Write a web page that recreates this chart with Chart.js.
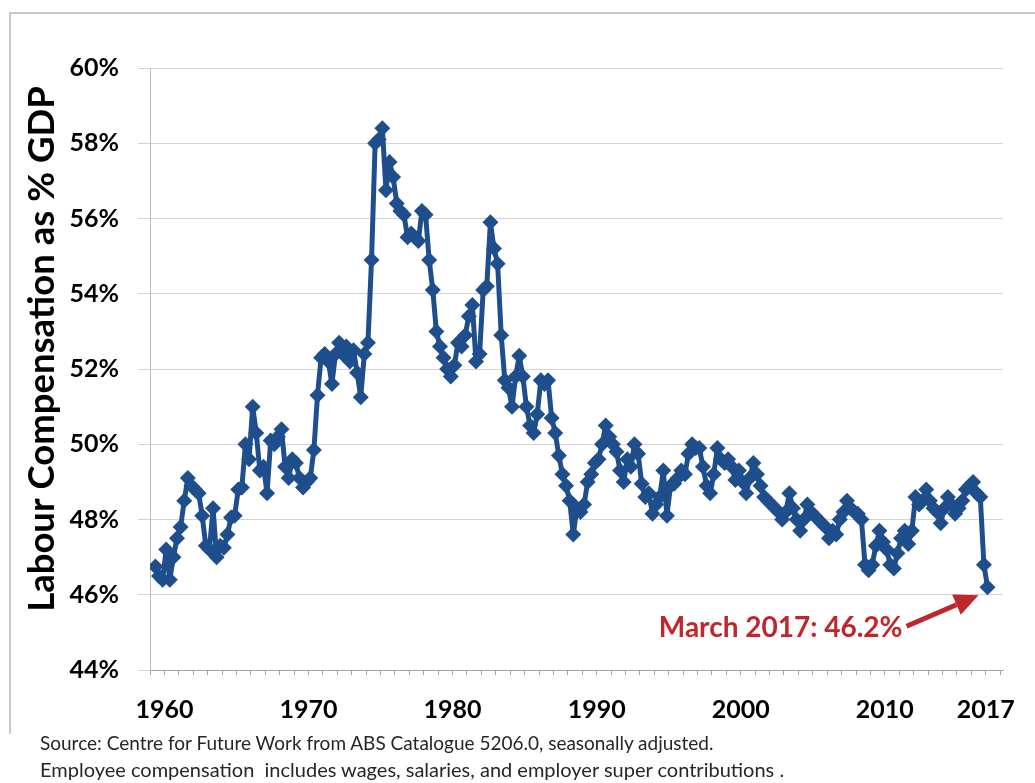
<!DOCTYPE html>
<html>
<head>
<meta charset="utf-8">
<script src="https://cdn.jsdelivr.net/npm/chart.js@4"></script>
<style>
  html, body { margin: 0; padding: 0; background: #fff; }
  #wrap { position: relative; width: 1035px; height: 783px; overflow: hidden; }
  #frame { position: absolute; left: 9px; top: 12px; width: 1040px; height: 720px;
           border-top: 2px solid #c8c8c8; border-left: 2px solid #c8c8c8; }
  #myChart { position: absolute; left: 0; top: 0; }
  .note { position: absolute; left: 40px; font-family: Lato, sans-serif; color: #262626; white-space: pre; }
</style>
</head>
<body>
<div id="wrap">
  <div id="frame"></div>
  <canvas id="myChart" width="1035" height="783"></canvas>
  <div class="note" style="top:731px; font-size:19px">Source: Centre for Future Work from ABS Catalogue 5206.0, seasonally adjusted.</div>
  <div class="note" style="top:757px; font-size:20px">Employee compensation  includes wages, salaries, and employer super contributions .</div>
</div>
<script>
// Labour compensation as % of GDP, quarterly, Jun 1959 - Mar 2017
const share1950s = [46.75, 46.5, 46.4];
const share1960s = [
  47.2, 46.4, 47.0, 47.5,
  47.8, 48.5, 49.1, 48.9,
  48.8, 48.7, 48.1, 47.3,
  47.2, 48.3, 47.0, 47.3,
  47.25, 47.6, 48.05, 48.1,
  48.8, 48.85, 50.0, 49.6,
  51.0, 50.3, 49.3, 49.4,
  48.7, 50.1, 50.0, 50.2,
  50.4, 49.4, 49.1, 49.6,
  49.5, 49.1, 48.85, 49.0,
];
const share1970s = [
  49.1, 49.85, 51.3, 52.3,
  52.4, 52.2, 51.6, 52.4,
  52.7, 52.4, 52.6, 52.2,
  52.5, 51.9, 51.25, 52.4,
  52.7, 54.9, 58.0, 58.1,
  58.4, 56.75, 57.5, 57.1,
  56.4, 56.2, 56.1, 55.5,
  55.6, 55.5, 55.4, 56.2,
  56.1, 54.9, 54.1, 53.0,
  52.6, 52.3, 52.0, 51.8,
];
const share1980s = [
  52.1, 52.7, 52.6, 52.9,
  53.4, 53.7, 52.2, 52.4,
  54.1, 54.2, 55.9, 55.2,
  54.8, 52.9, 51.7, 51.5,
  51.0, 51.8, 52.35, 51.8,
  51.0, 50.5, 50.3, 50.8,
  51.7, 51.6, 51.7, 50.7,
  50.3, 49.7, 49.2, 48.9,
  48.5, 47.6, 48.3, 48.2,
  48.4, 49.0, 49.2, 49.5,
];
const share1990s = [
  49.6, 50.0, 50.5, 50.2,
  50.0, 49.8, 49.3, 49.0,
  49.6, 49.4, 50.0, 49.75,
  48.95, 48.6, 48.7, 48.15,
  48.4, 48.6, 49.3, 48.1,
  48.9, 48.95, 49.1, 49.3,
  49.2, 49.75, 50.0, 49.9,
  49.9, 49.4, 48.9, 48.7,
  49.2, 49.9, 49.6, 49.5,
  49.6, 49.4, 49.05, 49.3,
];
const share2000s = [
  49.0, 48.7, 49.1, 49.5,
  49.2, 48.9, 48.6, 48.5,
  48.4, 48.3, 48.2, 48.0,
  48.2, 48.7, 48.3, 48.0,
  47.7, 48.0, 48.4, 48.2,
  48.1, 48.0, 47.9, 47.8,
  47.5, 47.7, 47.6, 48.0,
  48.2, 48.5, 48.3, 48.2,
  48.15, 48.0, 46.8, 46.65,
  46.8, 47.3, 47.7, 47.4,
];
const share2010s = [
  47.2, 46.8, 46.7, 47.1,
  47.5, 47.7, 47.35, 47.7,
  48.6, 48.4, 48.5, 48.8,
  48.5, 48.3, 48.2, 47.9,
  48.3, 48.6, 48.4, 48.15,
  48.3, 48.5, 48.8, 48.9,
  49.0, 48.7, 48.6, 46.8,
  46.2,
];

const firstYear = 1959, firstQuarter = 2; // June quarter 1959
const xLabelYears = [1960, 1970, 1980, 1990, 2000, 2010, 2017];
const yTitle = "Labour Compensation as % GDP";
const noteText = "March 2017: 46.2%";

const labourShare = [].concat(share1950s, share1960s, share1970s, share1980s,
                              share1990s, share2000s, share2010s);

// quarter mid-points as fractional years
const points = labourShare.map((v, i) => {
  const q = firstQuarter - 1 + i;
  const year = firstYear + Math.floor(q / 4);
  const month = (q % 4) * 3 + 3;
  return { x: year + (month - 1.5) / 12, y: v };
});

const blue = "#1f4e8c";
const red = "#c0272d";
const labelFont = { family: "Lato", weight: "bold", size: 25 };

const extras = {
  id: "extras",
  afterDraw(chart) {
    const { ctx } = chart;
    const meta = chart.getDatasetMeta(0);
    const last = meta.data[meta.data.length - 1];

    // y axis title
    ctx.save();
    ctx.translate(42, 349);
    ctx.rotate(-Math.PI / 2);
    ctx.font = "bold 36.5px Lato";
    ctx.fillStyle = "#000";
    ctx.textAlign = "center";
    ctx.textBaseline = "middle";
    ctx.fillText(yTitle, 0, 0);
    ctx.restore();

    // March 2017 note and arrow
    const tipX = last.x - 9, tipY = last.y + 8;
    const tailX = tipX - 72, tailY = tipY + 31;
    ctx.save();
    ctx.font = "bold 28px Lato";
    ctx.fillStyle = red;
    ctx.textAlign = "right";
    ctx.textBaseline = "middle";
    ctx.fillText(noteText, tailX - 4, tailY + 2);

    const ang = Math.atan2(tipY - tailY, tipX - tailX);
    const headLen = 24, headW = 11;
    const bx = tipX - headLen * Math.cos(ang), by = tipY - headLen * Math.sin(ang);
    ctx.strokeStyle = red;
    ctx.lineWidth = 5;
    ctx.beginPath();
    ctx.moveTo(tailX, tailY);
    ctx.lineTo(bx, by);
    ctx.stroke();
    ctx.beginPath();
    ctx.moveTo(tipX, tipY);
    ctx.lineTo(bx + headW * Math.sin(ang), by - headW * Math.cos(ang));
    ctx.lineTo(bx - headW * Math.sin(ang), by + headW * Math.cos(ang));
    ctx.closePath();
    ctx.fill();
    ctx.restore();
  },
};

const ctx = document.getElementById("myChart");

new Chart(ctx, {
  type: "line",
  data: {
    datasets: [
      {
        label: "Labour compensation",
        data: points,
        borderColor: blue,
        backgroundColor: blue,
        borderWidth: 5,
        borderJoinStyle: "round",
        pointStyle: "rectRot",
        pointRadius: 8,
        pointBorderWidth: 0,
        tension: 0,
      },
    ],
  },
  options: {
    responsive: false,
    animation: false,
    layout: { padding: { top: 68, right: 32, bottom: 53, left: 0 } },
    plugins: { legend: { display: false }, tooltip: { enabled: false } },
    scales: {
      x: {
        type: "linear",
        min: 1959,
        max: 2018.2,
        afterBuildTicks: (s) => {
          const t = [];
          for (let y = 1959; y <= 2018; y++) t.push({ value: y });
          s.ticks = t;
        },
        afterFit: (s) => { s.height = 60; },
        ticks: {
          autoSkip: false,
          maxRotation: 0,
          padding: 20,
          color: "#000",
          font: labelFont,
          callback: (v) => (xLabelYears.includes(v) ? String(v) : ""),
        },
        grid: { drawOnChartArea: false, tickLength: 5, color: "#a6a6a6" },
        border: { color: "#a6a6a6" },
      },
      y: {
        min: 44,
        max: 60,
        afterFit: (s) => { s.width = 150; },
        ticks: {
          stepSize: 2,
          padding: 19,
          color: "#000",
          font: labelFont,
          callback: (v) => v + "%",
        },
        grid: { color: "#d4d4d4", tickLength: 12 },
        border: { color: "#bcbcbc" },
      },
    },
  },
  plugins: [extras],
});
</script>
</body>
</html>
